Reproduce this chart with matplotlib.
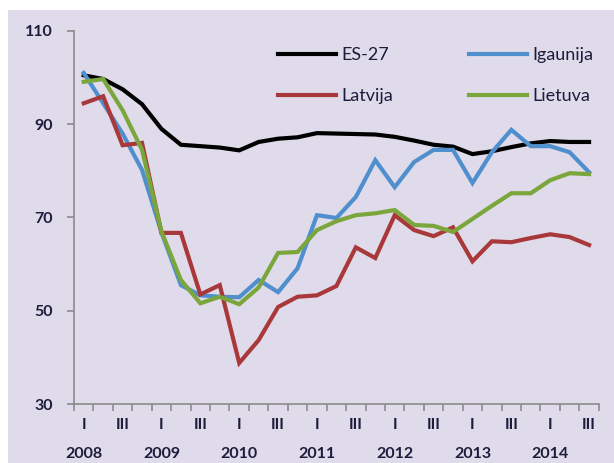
import matplotlib
matplotlib.use("Agg")
import matplotlib.pyplot as plt
from matplotlib.patches import Rectangle
import numpy as np

years = ["2008", "2009", "2010", "2011", "2012", "2013", "2014"]
quarter_labels = ["I", "", "III", ""]
n_quarters = 27

es27 = [100.5, 99.7, 97.5, 94.3, 89.0, 85.6, 85.3, 85.0, 84.4, 86.2, 86.9, 87.2, 88.1, 88.0,
        87.9, 87.8, 87.3, 86.5, 85.6, 85.2, 83.6, 84.2, 85.1, 85.9, 86.4, 86.2, 86.2]
igaunija = [101.0, 94.5, 88.0, 80.2, 66.8, 55.5, 53.3, 53.0, 52.9, 56.6, 54.0, 59.1, 70.5, 69.9,
            74.4, 82.3, 76.5, 81.9, 84.5, 84.5, 77.4, 84.0, 88.8, 85.3, 85.3, 84.0, 79.7]
latvija = [94.5, 96.0, 85.5, 86.0, 66.7, 66.7, 53.5, 55.5, 38.8, 43.7, 50.8, 53.0, 53.3, 55.3,
           63.6, 61.3, 70.5, 67.3, 66.0, 67.9, 60.6, 64.9, 64.7, 65.6, 66.4, 65.8, 64.1]
lietuva = [99.1, 99.7, 93.0, 84.5, 67.0, 56.6, 51.6, 53.0, 51.4, 55.0, 62.4, 62.6, 67.3, 69.2,
           70.5, 70.9, 71.6, 68.4, 68.2, 66.9, 69.7, 72.5, 75.2, 75.2, 78.0, 79.5, 79.3]

series = [("ES-27", es27, "#000000"), ("Igaunija", igaunija, "#4f8fcd"),
          ("Latvija", latvija, "#a9383a"), ("Lietuva", lietuva, "#7aa63c")]

bg = "#e0dbea"
txt = "#1c1c3c"
plt.rcParams['font.family'] = ['Lato', 'DejaVu Sans']

fig = plt.figure(figsize=(6.14, 4.63), dpi=100, facecolor="white")
fig.patches.append(Rectangle((8/614, 0), 1 - 8/614, 1 - 10/463, transform=fig.transFigure,
                             facecolor=bg, edgecolor="none", zorder=-10))
ax = fig.add_axes([74/614, 1 - 404/463, (598.8 - 74)/614, (404 - 31)/463])
ax.set_facecolor(bg)
ax.patch.set_alpha(0)

x = np.arange(n_quarters)
handles = {}
for name, vals, col in series:
    h, = ax.plot(x, vals, color=col, lw=3.0, solid_joinstyle="miter", label=name)
    handles[name] = h

ax.set_xlim(-0.5, n_quarters - 0.5)
ax.set_ylim(30, 110)
ax.set_yticks([30, 50, 70, 90, 110])
ax.tick_params(axis="y", colors="#8a8a8a", labelcolor=txt, labelsize=11.5, length=5, width=1.2, pad=10)

ax.set_xticks(np.arange(-0.5, n_quarters, 1.0), minor=True)
ax.set_xticks(x)
ax.set_xticklabels([quarter_labels[i % 4] for i in x])
ax.tick_params(axis="x", which="major", length=0, labelcolor=txt, labelsize=11.5, pad=10)
ax.tick_params(axis="x", which="minor", length=5, width=1.2, colors="#8a8a8a")
for lab in ax.get_xticklabels():
    lab.set_fontweight("bold")
for lab in ax.get_yticklabels():
    lab.set_fontweight("bold")

for i, yr in enumerate(years):
    ax.text(i * 4, -0.135, yr, transform=ax.get_xaxis_transform(), ha="center", va="center",
            fontsize=11.5, color=txt, fontweight="bold")

for s in ["top", "right"]:
    ax.spines[s].set_visible(False)
for s in ["left", "bottom"]:
    ax.spines[s].set_color("#8a8a8a")
    ax.spines[s].set_linewidth(1.2)

order = ["ES-27", "Latvija", "Igaunija", "Lietuva"]
leg = ax.legend([handles[k] for k in order], order, ncol=2, loc="upper left",
                bbox_to_anchor=((278 - 74) / 524.8, (404 - 47) / 373), frameon=False,
                borderpad=0, borderaxespad=0, handlelength=3.2, handletextpad=0.3,
                columnspacing=4.2, labelspacing=1.4, fontsize=13)
for t in leg.get_texts():
    t.set_color(txt)

fig.savefig("out.png", dpi=100, facecolor="white")
